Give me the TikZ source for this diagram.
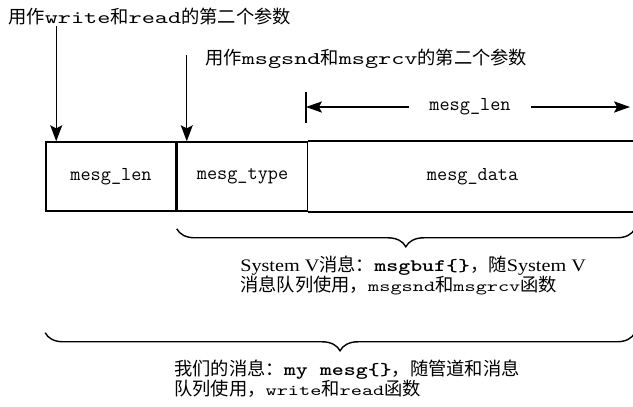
\documentclass[tikz,border=0pt]{standalone}
\usepackage{fontspec}
\usetikzlibrary{positioning, arrows.meta, decorations.pathreplacing}

\newfontfamily\cjkfont{Noto Sans CJK SC}
\newfontfamily\latinfont{Liberation Serif}[FakeStretch=1.15]
\newfontfamily\widetype{lmmono10-regular}[Extension=.otf, FakeStretch=1.4]
\newfontfamily\boldtype{lmmonolt10-bold}[Extension=.otf, FakeStretch=1.3]

\newcommand{\zh}[1]{{\cjkfont #1}}
\newcommand{\ltn}[1]{{\latinfont\fontsize{12.5}{14}\selectfont #1}}
\newcommand{\bcode}[1]{{\boldtype\fontsize{12.5}{14}\selectfont #1}}
\newcommand{\scode}[1]{{\widetype\fontsize{10.8}{14}\selectfont #1}}
\newcommand{\tcode}[1]{{\widetype\fontsize{12.7}{14}\selectfont #1}}

\begin{document}
\begin{tikzpicture}[
    font=\fontsize{13}{14}\selectfont,
    field/.style={draw, line width=1.1pt, minimum width=3.25cm, minimum height=1.725cm, inner sep=0pt, font=\ttfamily\fontsize{14}{16}\selectfont},
    openfield/.style={field, draw=none, minimum width=8.175cm},
    ptr/.style={-{Stealth[length=4mm, width=3mm, inset=0.8mm]}, line width=0.8pt},
    dimline/.style={-{Stealth[length=4mm, width=2.8mm, inset=0.8mm]}, line width=0.8pt},
    msgbrace/.style={decorate, decoration={brace, mirror, amplitude=0.45cm}, line width=1pt},
    toplabel/.style={anchor=west, inner sep=0pt},
    note/.style={anchor=north west, align=left, inner sep=0pt},
]

\useasboundingbox[fill=white] (0,0) rectangle (15.825,-10.15);

% === Message layout ===
\node[field] (f_len) at (2.775,-4.4125) {mesg\_len};
\node[field, right=0pt of f_len] (f_type) {mesg\_type};
\node[openfield, right=0pt of f_type] (f_data) {mesg\_data};

% data field stays open on the right
\draw[line width=1.1pt] (f_type.north east) -- (f_data.north east);
\draw[line width=1.1pt] (f_type.south east) -- (f_data.south east);

% === Pointer labels ===
\node[toplabel] (lbl_rw) at (0.2,-0.425) {\zh{用作}\tcode{write}\zh{和}\tcode{read}\zh{的第二个参数}};
\node[toplabel] (lbl_sv) at (5.125,-1.475) {\zh{用作}\tcode{msgsnd}\zh{和}\tcode{msgrcv}\zh{的第二个参数}};

\coordinate (rw_in) at ([xshift=0.275cm]f_len.north west);
\coordinate (sv_in) at ([xshift=0.25cm]f_type.north west);

\draw[ptr] (lbl_rw.south -| rw_in) -- (rw_in);
\draw[ptr] ([yshift=0.1cm]lbl_sv.west -| sv_in) -- (sv_in);

% === Length of the data part ===
\coordinate (len_l) at (7.65,-2.675);
\coordinate (len_r) at (15.75,-2.675);
\node[inner xsep=0.5cm, font=\ttfamily\fontsize{14}{16}\selectfont] (len_lbl) at (11.75,-2.675) {mesg\_len};

\draw[line width=1.3pt] ([yshift=0.375cm]len_l) -- ([yshift=-0.4cm]len_l);
\draw[dimline] (len_lbl) -- (len_l);
\draw[dimline] (len_lbl) -- (len_r);

% === Braces and notes ===
\draw[msgbrace] ([yshift=-0.425cm]f_type.south west) -- ([xshift=-0.05cm, yshift=-0.425cm]f_data.south east);
\draw[msgbrace] ([yshift=-3.025cm]f_len.south west) -- ([xshift=-0.05cm, yshift=-3.025cm]f_data.south east);

\node[note] (sv_note) at (6.0,-6.4) {%
    \ltn{System V}\zh{消息：}\bcode{msgbuf\{\}}\zh{，随}\ltn{System V}\\
    \zh{消息队列使用，}\scode{msgsnd}\zh{和}\scode{msgrcv}\zh{函数}};

\node[note] (my_note) at (4.35,-9.0) {%
    \zh{我们的消息：}\bcode{my mesg\{\}}\zh{，随管道和消息}\\
    \zh{队列使用，}\scode{write}\zh{和}\scode{read}\zh{函数}};

\end{tikzpicture}
\end{document}
